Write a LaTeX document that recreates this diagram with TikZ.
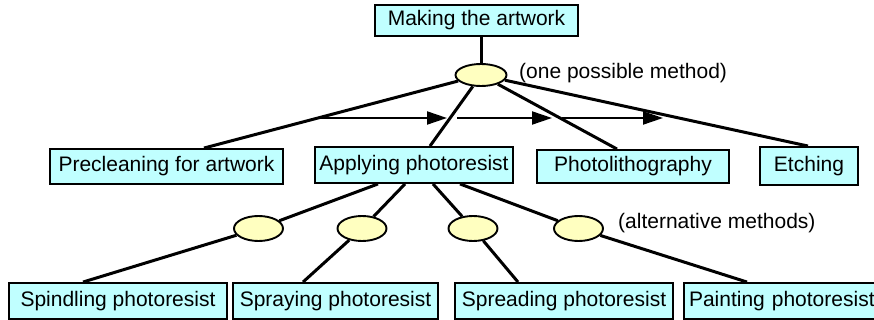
\documentclass[tikz,border=0pt]{standalone}
\usepackage{fontspec}
\setmainfont{Liberation Sans}
\usetikzlibrary{arrows.meta,shapes.geometric}
\definecolor{boxcyan}{RGB}{192,255,255}
\definecolor{ovalyellow}{RGB}{255,255,192}
\begin{document}
\begin{tikzpicture}[x=1pt,y=-1pt,
  box/.style={draw=black, line width=1.9pt, fill=boxcyan, inner sep=0pt,
              font=\fontsize{21}{25}\selectfont},
  oval/.style={draw=black, ellipse, line width=1.9pt, fill=ovalyellow, inner sep=0pt},
  link/.style={line width=3pt},
  flow/.style={line width=2pt, -{Triangle[length=20pt,width=13pt]}},
  note/.style={anchor=west, inner sep=0pt, font=\fontsize{21}{25}\selectfont}]
\useasboundingbox (0,0) rectangle (874,320);
\clip (0,0) rectangle (874,320);

% root task and its method
\node[box, minimum width=203pt, minimum height=31pt] (make) at (476.5,20.5) {Making the artwork};
\node[oval, minimum width=51pt, minimum height=22pt] (top) at (481,75) {};
\node[note] (onem) at (519,73) {(one possible method)};

% sequential steps
\node[box, minimum width=233pt, minimum height=35pt] (prec) at (166.5,166.5) {Precleaning for artwork};
\node[box, minimum width=198pt, minimum height=36pt] (app) at (414,165) {Applying photoresist};
\node[box, minimum width=192pt, minimum height=33pt] (photo) at (633,166.5) {Photolithography};
\node[box, minimum width=98pt, minimum height=38pt] (etch) at (809,166) {Etching};

% alternatives for applying the resist
\node[oval, minimum width=49pt, minimum height=25pt] (e1) at (258.5,228.5) {};
\node[oval, minimum width=49pt, minimum height=25pt] (e2) at (362,228.5) {};
\node[oval, minimum width=49pt, minimum height=25pt] (e3) at (473,228.5) {};
\node[oval, minimum width=49pt, minimum height=25pt] (e4) at (578.5,228.5) {};
\node[note] (altm) at (618,223) {(alternative methods)};

\node[box, minimum width=218pt, minimum height=36pt] (spin) at (118,301) {Spindling photoresist};
\node[box, minimum width=205pt, minimum height=36pt] (spray) at (335.5,301) {Spraying photoresist};
\node[box, minimum width=218pt, minimum height=36pt] (spread) at (564,301) {Spreading photoresist};
\node[box, minimum width=206pt, minimum height=36pt, text width=196pt, align=left] (paint) at (787,301) {Painting photoresist};

% tree links
\draw[link] (make.south -| top.north) -- (top.north);
\draw[link] (top) -- ([xshift=37.5pt]prec.north);
\draw[link] (top) -- ([xshift=16pt]app.north);
\draw[link] (top) -- ([xshift=-16pt]photo.north);
\draw[link] (top) -- ([xshift=-1pt]etch.north);

\draw[link] ([xshift=-36pt]app.south) -- (e1);
\draw[link] ([xshift=-9pt]app.south) -- (e2);
\draw[link] ([xshift=19pt]app.south) -- (e3);
\draw[link] ([xshift=46pt]app.south) -- (e4);
\draw[link] (e1) -- ([xshift=-35pt]spin.north);
\draw[link] (e2) -- ([xshift=-32.5pt]spray.north);
\draw[link] (e3) -- ([xshift=-46pt]spread.north);
\draw[link] (e4) -- ([xshift=-40pt]paint.north);

% order of the steps
\coordinate (s0) at (317,118);
\coordinate (s1) at (447,118);
\coordinate (s2) at (457,118);
\coordinate (s3) at (552,118);
\coordinate (s4) at (562,118);
\coordinate (s5) at (663,118);
\draw[flow] (s0) -- (s1);
\draw[flow] (s2) -- (s3);
\draw[flow] (s4) -- (s5);
\end{tikzpicture}
\end{document}
